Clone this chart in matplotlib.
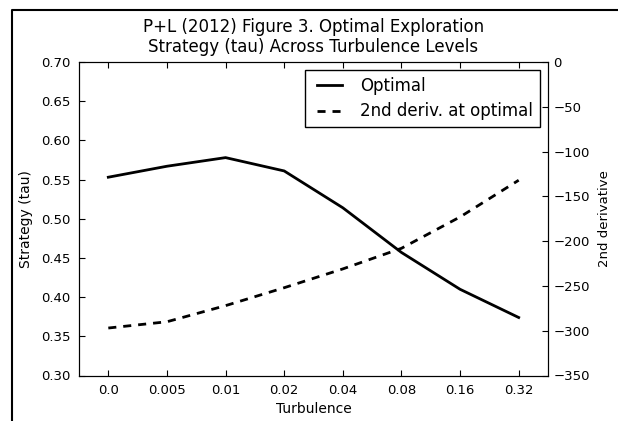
import matplotlib
matplotlib.use("Agg")
import matplotlib.pyplot as plt
from matplotlib.lines import Line2D
from matplotlib.legend_handler import HandlerLine2D

# data
turbulence = ["0.0", "0.005", "0.01", "0.02", "0.04", "0.08", "0.16", "0.32"]
optimal_tau = [0.553, 0.567, 0.578, 0.561, 0.514, 0.457, 0.410, 0.374]
second_deriv = [-297, -290, -272, -252, -231, -208, -173, -132]

plt.rcParams["font.family"] = "DejaVu Sans"
plt.rcParams["xtick.direction"] = "in"
plt.rcParams["ytick.direction"] = "in"

fig = plt.figure(figsize=(6.18, 4.21), dpi=100)
ax1 = fig.add_axes([79 / 618, 1 - 375.5 / 421, 469 / 618, 313.5 / 421])

x = list(range(len(turbulence)))
l1, = ax1.plot(x, optimal_tau, "k-", lw=2, label="Optimal")
ax1.set_ylim(0.30, 0.70)
ax1.set_yticks([0.30, 0.35, 0.40, 0.45, 0.50, 0.55, 0.60, 0.65, 0.70])
ax1.set_yticklabels(["%.2f" % v for v in ax1.get_yticks()])
ax1.set_xlim(-0.5, len(turbulence) - 0.5)
ax1.set_xticks(x)
ax1.set_xticklabels(turbulence)
ax1.tick_params(axis="both", labelsize=9.5, length=4, top=True, pad=6)
ax1.set_ylabel("Strategy (tau)", fontsize=10, labelpad=6)
ax1.set_xlabel("Turbulence", fontsize=10, labelpad=4)

ax2 = ax1.twinx()
l2, = ax2.plot(x, second_deriv, "k--", lw=2, dashes=(2.9, 2.5), label="2nd deriv. at optimal")
ax2.set_ylim(-350, 0)
ax2.set_yticks(range(-350, 1, 50))
ax2.tick_params(axis="y", labelsize=9.5, length=4, pad=4)
ax2.set_ylabel("2nd derivative", fontsize=9.5, labelpad=6)

ax1.set_title("P+L (2012) Figure 3. Optimal Exploration\nStrategy (tau) Across Turbulence Levels",
              fontsize=12, pad=7, linespacing=1.15)

leg = ax2.legend(handles=[l1, l2], loc="upper right", fontsize=12,
                 fancybox=False, framealpha=1, borderaxespad=0.5,
                 handlelength=1.82, handletextpad=1.08, borderpad=0.4, labelspacing=0.45,
                 handler_map={Line2D: HandlerLine2D(xpad=0.32)})
leg.get_frame().set_edgecolor("black")

# frame of the screenshot
fig.add_artist(Line2D([12 / 618, 12 / 618, 1.0], [0.0, 1 - 10 / 421, 1 - 10 / 421],
                      transform=fig.transFigure, color="black", lw=1.5))

plt.savefig("out.png", dpi=100)
plt.close()
